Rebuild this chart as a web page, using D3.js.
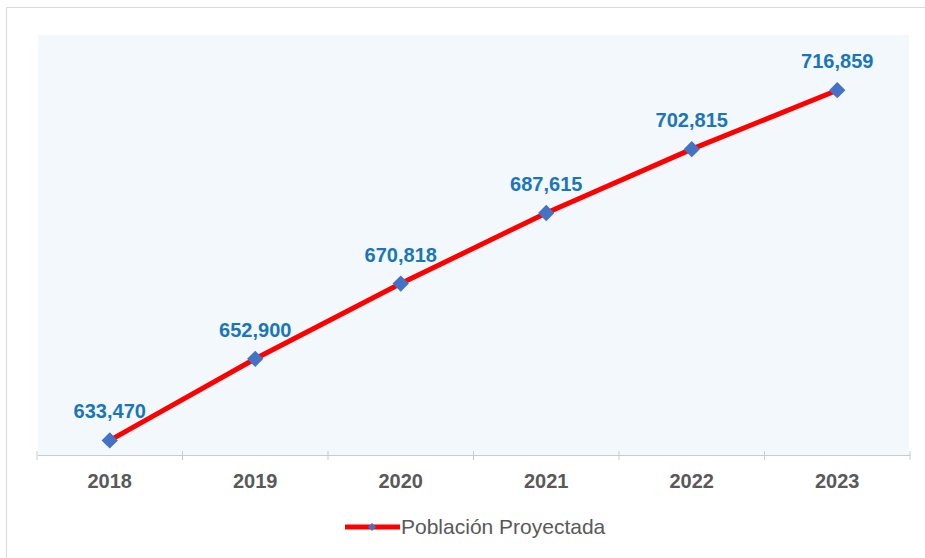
<!DOCTYPE html>
<html>
<head>
<meta charset="utf-8">
<script src="https://cdn.jsdelivr.net/npm/d3@7"></script>
<style>
  body { margin: 0; background: #fff; }
  text { font-family: Arial, "Liberation Sans", sans-serif; }
</style>
</head>
<body>
<div id="chart"></div>
<script>
const years = ['2018', '2019', '2020', '2021', '2022', '2023'];
const population = [633470, 652900, 670818, 687615, 702815, 716859];
const seriesName = 'Población Proyectada';

const width = 925, height = 558;
const plot = { left: 37, right: 910, top: 35, bottom: 455 };

const svg = d3.select('#chart').append('svg').attr('width', width).attr('height', height);

// outer frame
svg.append('rect').attr('x', 6.5).attr('y', 7.5).attr('width', 930).attr('height', 560)
  .attr('fill', '#fff').attr('stroke', '#d9d9d9');

svg.append('rect').attr('x', plot.left + 1).attr('y', plot.top)
  .attr('width', plot.right - plot.left - 2).attr('height', plot.bottom - plot.top)
  .attr('fill', '#f3f8fd');

const x = d3.scaleBand().domain(years).range([plot.left, plot.right]);
const y = d3.scaleLinear().domain([630000, 730000]).range([plot.bottom, plot.top]);

const axis = svg.append('g').attr('transform', `translate(0,${plot.bottom})`)
  .call(d3.axisBottom(x).tickSize(0).tickPadding(0));
axis.select('.domain').attr('stroke', '#c8ccd0');
axis.selectAll('text').attr('dy', null).attr('y', 33)
  .attr('font-size', 20).attr('font-weight', 'bold').attr('fill', '#595959');

// category boundary ticks
const bounds = years.map(d => x(d)).concat([x(years[years.length - 1]) + x.bandwidth()]);
svg.append('g').selectAll('line').data(bounds).join('line')
  .attr('x1', d => d).attr('x2', d => d)
  .attr('y1', plot.bottom - 4).attr('y2', plot.bottom + 5)
  .attr('stroke', '#c8ccd0');

const cx = (d, i) => x(years[i]) + x.bandwidth() / 2;

svg.append('path').datum(population)
  .attr('fill', 'none').attr('stroke', '#ff0000').attr('stroke-width', 5)
  .attr('d', d3.line().x(cx).y(d => y(d)));

const diamond = d3.symbol().type(d3.symbolDiamond2).size(170)();
svg.append('g').selectAll('path').data(population).join('path')
  .attr('d', diamond)
  .attr('transform', (d, i) => `translate(${cx(d, i)},${y(d)})`)
  .attr('fill', '#4472c4');

svg.append('g').selectAll('text').data(population).join('text')
  .attr('x', cx).attr('y', d => y(d) - 22)
  .attr('text-anchor', 'middle')
  .attr('font-size', 20).attr('font-weight', 'bold').attr('fill', '#1a75bb')
  .text(d => d3.format(',')(d));

// legend
const legend = svg.append('g').attr('transform', 'translate(345,527)');
legend.append('line').attr('x1', 0).attr('x2', 55).attr('y1', 0).attr('y2', 0)
  .attr('stroke', '#ff0000').attr('stroke-width', 5);
legend.append('path').attr('d', d3.symbol().type(d3.symbolDiamond2).size(40)())
  .attr('transform', 'translate(27,0)').attr('fill', '#4472c4');
legend.append('text').attr('x', 56).attr('y', 7)
  .attr('font-size', 21).attr('fill', '#595959').text(seriesName);
</script>
</body>
</html>
